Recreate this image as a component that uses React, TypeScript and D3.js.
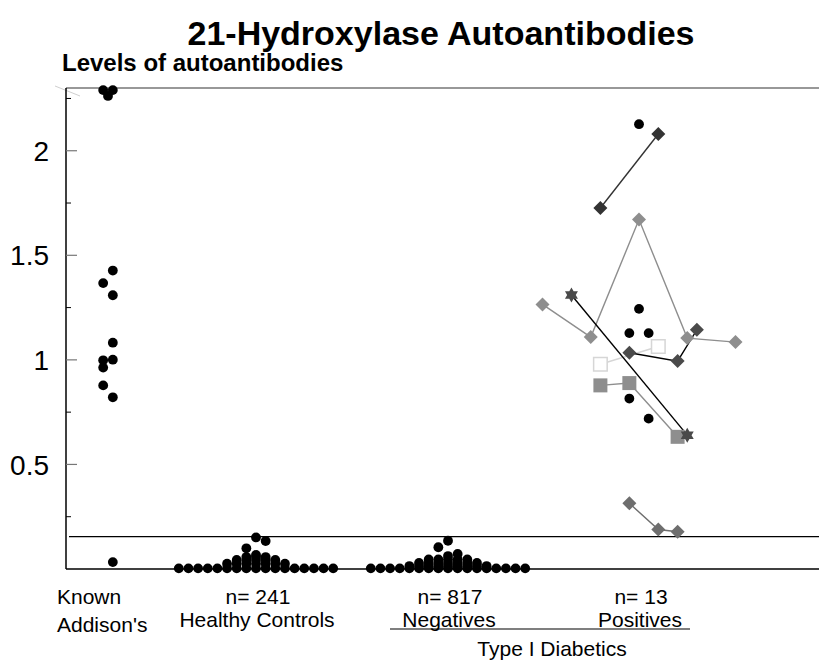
import * as d3 from "d3";
import { useRef, useEffect } from "react";

// category columns along the bottom
const groups = ["Known Addison's", "Healthy Controls", "Negatives", "Positives"];
const groupCounts = ["", "n= 241", "n= 817", "n= 13"];

const yTicks = [0.5, 1, 1.5, 2];
const yMinorTicks = [0.25, 0.75, 1.25, 1.75, 2.25];
const cutoff = 0.155;

// Known Addison's patients (value + side column)
const addisonsValues = [2.29, 2.29, 2.262, 1.427, 1.367, 1.309, 1.082, 1.001, 0.998, 0.963, 0.878, 0.821, 0.033];
const addisonsColumns = [-0.5, 0.5, 0, 0.5, -0.5, 0.5, 0.5, 0.5, -0.5, -0.5, -0.5, 0.5, 0.5];

// dot-plot rows, left to right (null = empty slot)
const healthyRows: (number | null)[][] = [
  [0.003, 0.003, 0.003, 0.003, 0.003, 0.003, 0.003, 0.003, 0.003, 0.003, 0.003, 0.003, 0.003, 0.003, 0.003, 0.003, 0.003],
  [0.025, 0.025, 0.025, 0.025, 0.025, 0.025, 0.025],
  [0.043, 0.043, 0.043, 0.043, 0.043],
  [0.057, 0.057, 0.057],
  [0.067],
  [0.099, 0.151, 0.134],
];

const negativeRows: (number | null)[][] = [
  [0.003, 0.003, 0.003, 0.003, 0.003, 0.003, 0.003, 0.003, 0.003, 0.003, 0.003, 0.003, 0.003, 0.003, 0.003, 0.003, 0.003],
  [0.014, 0.014, 0.014, 0.014, 0.014, 0.014, 0.014, 0.014, 0.014],
  [0.029, 0.029, 0.029, 0.029, 0.029, 0.029, 0.029],
  [0.046, 0.046, 0.046, 0.046, 0.046],
  [null, 0.062, 0.072],
  [0.104, 0.135, null],
];

// Type I diabetic positives: single readings
const positiveDotColumns = [0, 0, -1, 1, -1, 1];
const positiveDotValues = [2.127, 1.244, 1.128, 1.128, 0.815, 0.719];

// follow-up series (column = sample slot, value = level)
const seriesA = { columns: [-4, 2], values: [1.726, 2.08] };
const seriesB = { columns: [-10, -5, 0, 5, 10], values: [1.265, 1.109, 1.671, 1.104, 1.085] };
const seriesStar = { columns: [-7, 5], values: [1.31, 0.64] };
const seriesC = { columns: [-1, 4, 6], values: [1.034, 0.994, 1.144] };
const seriesOpen = { columns: [-4, 2], values: [0.979, 1.064] };
const seriesSquare = { columns: [-4, -1, 4], values: [0.878, 0.889, 0.632] };
const seriesD = { columns: [-1, 2, 4], values: [0.314, 0.189, 0.178] };

const diamond = {
  draw(ctx: any, size: number) {
    const h = Math.sqrt(size);
    ctx.moveTo(0, -h);
    ctx.lineTo(h, 0);
    ctx.lineTo(0, h);
    ctx.lineTo(-h, 0);
    ctx.closePath();
  },
};

const square = {
  draw(ctx: any, size: number) {
    const h = Math.sqrt(size);
    ctx.rect(-h, -h, 2 * h, 2 * h);
  },
};

const hexagram = {
  draw(ctx: any, size: number) {
    const r = Math.sqrt(size);
    const ri = r / Math.sqrt(3);
    for (let i = 0; i < 12; i++) {
      const a = (Math.PI / 6) * i - Math.PI / 2;
      const rr = i % 2 === 0 ? r : ri;
      const px = Math.cos(a) * rr;
      const py = Math.sin(a) * rr;
      if (i === 0) ctx.moveTo(px, py);
      else ctx.lineTo(px, py);
    }
    ctx.closePath();
  },
};

function Chart() {
  const width = 819;
  const height = 660;
  const svgRef = useRef(null);

  useEffect(() => {
    document.body.style.margin = "0";
    const svg = d3.select(svgRef.current);
    svg.selectAll("*").remove();
    const font = "'Liberation Sans', Arial, sans-serif";

    const y = d3.scaleLinear().domain([0, 2.3]).range([569, 88]);
    const center = d3.scaleOrdinal<string, number>().domain(groups).range([108, 256, 448, 639]);
    const slot = d3.scaleLinear().domain([0, 1]).range([0, 9.65]);
    const left = 66;

    // frame lines
    svg.append("line").attr("x1", 55).attr("y1", 86).attr("x2", 80).attr("y2", 96)
      .attr("stroke", "#cfcfcf").attr("stroke-width", 1);
    svg.append("line").attr("x1", left).attr("x2", width).attr("y1", y(2.3)).attr("y2", y(2.3))
      .attr("stroke", "#333").attr("stroke-width", 1.2);
    svg.append("line").attr("x1", left + 3).attr("x2", width).attr("y1", y(cutoff)).attr("y2", y(cutoff))
      .attr("stroke", "#000").attr("stroke-width", 1.2);
    svg.append("line").attr("x1", left).attr("x2", width).attr("y1", y(0)).attr("y2", y(0))
      .attr("stroke", "#000").attr("stroke-width", 1.5);
    svg.append("line").attr("x1", left).attr("x2", left).attr("y1", y(2.3)).attr("y2", y(0))
      .attr("stroke", "#000").attr("stroke-width", 1.5);

    svg.selectAll(".major").data(yTicks).join("line").attr("class", "major")
      .attr("x1", left).attr("x2", left + 11).attr("y1", (d) => y(d)).attr("y2", (d) => y(d))
      .attr("stroke", "#777").attr("stroke-width", 1.2);
    svg.selectAll(".minor").data(yMinorTicks).join("line").attr("class", "minor")
      .attr("x1", left).attr("x2", left + 5).attr("y1", (d) => y(d)).attr("y2", (d) => y(d))
      .attr("stroke", "#000").attr("stroke-width", 1);
    svg.selectAll(".ylab").data(yTicks).join("text").attr("class", "ylab")
      .attr("x", 49).attr("y", (d) => y(d)).attr("dy", "0.36em")
      .attr("text-anchor", "end").style("font-family", font).style("font-size", "28px")
      .text((d) => String(d));

    // titles
    svg.append("text").attr("x", 441).attr("y", 45).attr("text-anchor", "middle")
      .style("font-family", font).style("font-size", "34px").style("font-weight", "bold")
      .text("21-Hydroxylase Autoantibodies");
    svg.append("text").attr("x", 62).attr("y", 71)
      .style("font-family", font).style("font-size", "24px").style("font-weight", "bold")
      .text("Levels of autoantibodies");

    // Known Addison's
    const dots: { x: number; y: number }[] = addisonsValues.map((v, i) => ({
      x: center(groups[0]) + slot(addisonsColumns[i]),
      y: y(v),
    }));
    // dot plot rows, centred on their column
    const addRows = (rows: (number | null)[][], g: string) => {
      rows.forEach((row) => {
        row.forEach((v, i) => {
          if (v === null) return;
          dots.push({ x: center(g) + slot(i - (row.length - 1) / 2), y: y(v) });
        });
      });
    };
    addRows(healthyRows, groups[1]);
    addRows(negativeRows, groups[2]);
    positiveDotValues.forEach((v, i) => {
      dots.push({ x: center(groups[3]) + slot(positiveDotColumns[i]), y: y(v) });
    });

    svg.selectAll(".dot").data(dots).join("circle").attr("class", "dot")
      .attr("cx", (d) => d.x).attr("cy", (d) => d.y).attr("r", 4.9).attr("fill", "#000");

    // follow-up series
    const seriesStyles = [
      { s: seriesB, type: diamond, size: 49, fill: "#8e8e8e", stroke: "none", line: "#8e8e8e" },
      { s: seriesA, type: diamond, size: 49, fill: "#333", stroke: "none", line: "#333" },
      { s: seriesOpen, type: square, size: 46, fill: "#fff", stroke: "#d6d6d6", line: "#d6d6d6" },
      { s: seriesSquare, type: square, size: 49, fill: "#8e8e8e", stroke: "none", line: "#8e8e8e" },
      { s: seriesD, type: diamond, size: 49, fill: "#6e6e6e", stroke: "none", line: "#6e6e6e" },
      { s: seriesC, type: diamond, size: 49, fill: "#4a4a4a", stroke: "none", line: "#000" },
      { s: seriesStar, type: hexagram, size: 56, fill: "#4a4a4a", stroke: "none", line: "#000" },
    ];
    const path = d3.line<{ x: number; y: number }>().x((d) => d.x).y((d) => d.y);

    seriesStyles.forEach((st) => {
      const pts = st.s.values.map((v, i) => ({
        x: center(groups[3]) + slot(st.s.columns[i]),
        y: y(v),
      }));
      svg.append("path").datum(pts).attr("d", path).attr("fill", "none")
        .attr("stroke", st.line).attr("stroke-width", 1.4);
    });
    seriesStyles.forEach((st) => {
      const sym = d3.symbol().type(st.type as any).size(st.size);
      svg.append("g").selectAll("path").data(st.s.values).join("path")
        .attr("transform", (v, i) => `translate(${center(groups[3]) + slot(st.s.columns[i])},${y(v)})`)
        .attr("d", sym as any)
        .attr("fill", st.fill).attr("stroke", st.stroke).attr("stroke-width", 1.5);
    });

    // category labels
    const lab = svg.append("g").style("font-family", font).style("font-size", "21px");
    lab.append("text").attr("x", 57).attr("y", 604).text("Known");
    lab.append("text").attr("x", 57).attr("y", 632).text("Addison's");
    groups.slice(1).forEach((g, i) => {
      lab.append("text").attr("x", center(g) + 2).attr("y", 604).attr("text-anchor", "middle")
        .text(groupCounts[i + 1]);
      lab.append("text").attr("x", center(g) + 1).attr("y", 627).attr("text-anchor", "middle").text(g);
    });
    svg.append("line").attr("x1", 390).attr("x2", 690).attr("y1", 629).attr("y2", 629)
      .attr("stroke", "#000").attr("stroke-width", 1.2);
    lab.append("text").attr("x", 552).attr("y", 656).attr("text-anchor", "middle").text("Type I Diabetics");
  }, []);

  return <svg ref={svgRef} width={width} height={height} style={{ display: "block" }}></svg>;
}

export default function App() {
  return <Chart />;
}
